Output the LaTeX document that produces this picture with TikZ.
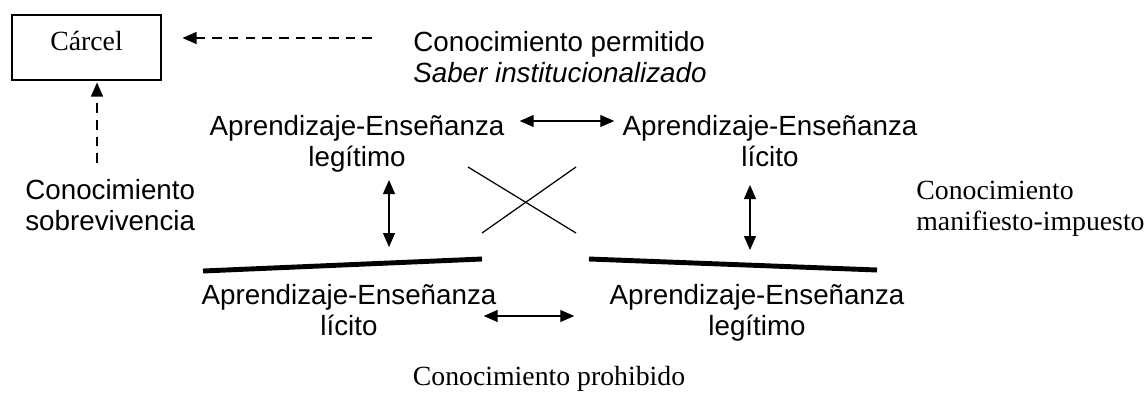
\documentclass[tikz,border=0pt]{standalone}
\usepackage{fontspec}
\setmainfont{Liberation Serif}
\setsansfont{Liberation Sans}
\usetikzlibrary{calc,arrows.meta,positioning}

\begin{document}
\begin{tikzpicture}[x=0.02cm,y=-0.02cm,
  >={Triangle[length=0.28cm,width=0.24cm]},
  sans/.style={font=\fontsize{15.8}{17.4}\selectfont\sffamily,inner sep=0pt,anchor=base,align=center},
  serif/.style={font=\fontsize{15.8}{17.4}\selectfont\rmfamily,inner sep=0pt},
  dasharr/.style={->,dash pattern=on 5.5pt off 4pt,line width=0.6pt},
  dbl/.style={<->,line width=0.7pt},
  bar/.style={line width=2.8pt}]
\useasboundingbox (0,0) rectangle (1148,392);
% prison box and the outer labels
\node[serif,draw,line width=0.6pt,minimum width=2.98cm,minimum height=1.3cm,text height=0.7em,text depth=0.36em] (carcel) at (86.5,47.5) {Cárcel};
\node[sans,anchor=base west,align=left] (perm) at (413,82) {Conocimiento permitido\\\textit{Saber institucionalizado}};
\node[sans,anchor=base west,align=left] (sobrev) at (25,230) {Conocimiento\\sobrevivencia};
\node[serif,anchor=base west,align=left] (manif) at (916,230) {Conocimiento\\manifiesto-impuesto};
\node[serif,anchor=base] (prohib) at (549,385) {Conocimiento prohibido};
% the four teaching-learning blocks
\node[sans] (tl) at (357,166) {Aprendizaje-Enseñanza\\legítimo};
\node[sans] (tr) at (770,166) {Aprendizaje-Enseñanza\\lícito};
\node[sans] (bl) at (349,335) {Aprendizaje-Enseñanza\\lícito};
\node[sans] (br) at (757,335) {Aprendizaje-Enseñanza\\legítimo};
% thick bars
\coordinate (ll1) at (203,271);
\coordinate (ll2) at (482,259);
\coordinate (rl1) at (589,259);
\coordinate (rl2) at (877,270);
\draw[bar] (ll1) -- (ll2);
\draw[bar] (rl1) -- (rl2);
% cross
\draw[line width=0.7pt] (468,167) -- (576,233);
\draw[line width=0.7pt] (482,233) -- (576,167);
% dashed arrows to the box
\coordinate (pa) at (372,38);
\coordinate (sa) at (97,163);
\draw[dasharr,shorten >=0.42cm] (pa) -- (pa -| carcel.east);
\draw[dasharr,shorten >=0.04cm] (sa) -- (sa |- carcel.south);
% double arrows
\draw[dbl] ($(tl.base east)+(15,-45)$) -- ($(tr.base west)+(-8,-45)$);
\draw[dbl] ($(tl.base)+(32,14)$) -- ($(tl.base)+(32,81)$);
\draw[dbl] ($(tr.base)+(-20,19)$) -- ($(tr.base)+(-20,84)$);
\draw[dbl] ($(bl.base east)+(-13,-19)$) -- ($(br.base west)+(-35,-19)$);
\end{tikzpicture}
\end{document}
